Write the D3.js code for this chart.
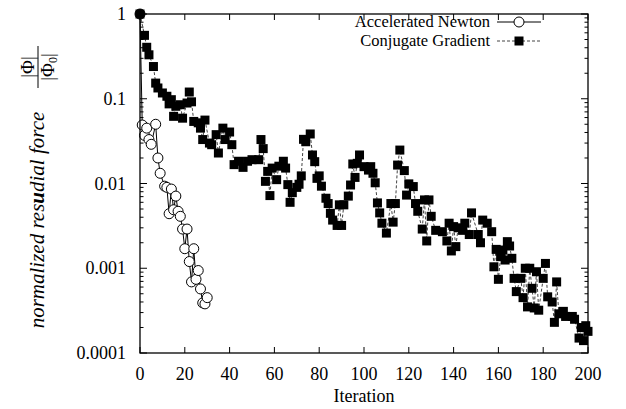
<!DOCTYPE html>
<html>
<head>
<meta charset="utf-8">
<script src="https://cdn.jsdelivr.net/npm/d3@7"></script>
<style>
  body { margin: 0; background: #fff; }
  svg { display: block; font-family: 'Liberation Serif', 'DejaVu Serif', serif; }
</style>
</head>
<body>
<div id="chart"></div>
<script>
const newtonIter = [0, 1, 2, 3, 4, 5, 7, 8, 9, 11, 12, 13, 14, 15, 16, 17, 18, 19, 20, 21, 22, 23, 24, 25, 26, 27, 28, 29, 30]
const newtonValue = [1, 0.049, 0.037, 0.045, 0.033, 0.029, 0.050, 0.020, 0.0132, 0.0093, 0.0090, 0.0044, 0.0086, 0.0049, 0.0071,
  0.0047, 0.0041, 0.0029, 0.0017, 0.0029, 0.0012, 0.00069, 0.0017, 0.00074, 0.00094, 0.00057, 0.00039, 0.00038, 0.00045]

const cgIter = [0, 2, 3, 4, 6, 7, 8, 10, 12, 13, 14, 15, 16, 18, 19, 21, 22, 23, 24, 26, 27, 28, 29, 31, 32, 34, 35, 37, 38, 40,
  41, 42, 44, 46, 48, 50, 53, 54, 55, 56, 57, 58, 59, 61, 62, 64, 65, 66, 67, 68, 70, 71, 72, 73, 74, 76, 77, 78, 79, 80,
  81, 83, 84, 85, 86, 88, 89, 90, 91, 93, 94, 95, 96, 97, 98, 100, 102, 103, 104, 105, 106, 107, 108, 110, 112, 113, 114, 115, 116, 118,
  119, 120, 122, 123, 124, 126, 127, 128, 129, 130, 132, 135, 137, 138, 139, 140, 141, 142, 144, 145, 147, 148, 151, 152, 153, 155, 157, 158, 159, 160,
  161, 162, 163, 164, 165, 166, 167, 168, 170, 171, 172, 173, 174, 175, 176, 177, 178, 180, 181, 182, 184, 185, 186, 187, 189, 190, 193, 194, 196, 197,
  198, 199, 200]
const cgValue = [1, 0.56, 0.405, 0.33, 0.24, 0.153, 0.134, 0.117, 0.107, 0.087, 0.0975, 0.062, 0.0815, 0.085, 0.059, 0.089, 0.12, 0.092, 0.054, 0.052,
  0.045, 0.033, 0.056, 0.030, 0.0287, 0.0377, 0.0229, 0.045, 0.033, 0.0405, 0.0287, 0.0167, 0.0183, 0.0155, 0.0183, 0.0191, 0.0191, 0.033, 0.0258, 0.0106,
  0.0139, 0.0072, 0.0152, 0.0111, 0.016, 0.0183, 0.0152, 0.0097, 0.0060, 0.0078, 0.0090, 0.0098, 0.0123, 0.0332, 0.0311, 0.0384, 0.0217, 0.0181, 0.0115, 0.0123,
  0.0093, 0.0067, 0.0058, 0.00445, 0.0037, 0.0032, 0.0056, 0.0032, 0.0056, 0.0071, 0.0096, 0.017, 0.0118, 0.0173, 0.0217, 0.0158, 0.0144, 0.0158, 0.0132, 0.0102,
  0.0059, 0.0045, 0.0034, 0.0026, 0.0058, 0.0035, 0.0058, 0.0165, 0.0248, 0.0142, 0.0073, 0.0099, 0.0092, 0.0058, 0.0047, 0.0029, 0.0064, 0.0021, 0.0064, 0.0041,
  0.0028, 0.0027, 0.0021, 0.0034, 0.0016, 0.0031, 0.0018, 0.0030, 0.0028, 0.0034, 0.0025, 0.0045, 0.0025, 0.0020, 0.0037, 0.0034, 0.0027, 0.00104, 0.00167, 0.00074,
  0.00137, 0.00164, 0.00125, 0.00206, 0.00183, 0.00131, 0.00076, 0.00053, 0.00076, 0.00045, 0.0010, 0.00035, 0.0010, 0.00058, 0.00034, 0.00091, 0.00032, 0.00076, 0.00114, 0.00046,
  0.0004, 0.00023, 0.00069, 0.00029, 0.00031, 0.00027, 0.00027, 0.00025, 0.00015, 0.0002, 0.00014, 0.00021, 0.00018]

const xTicks = [0, 20, 40, 60, 80, 100, 120, 140, 160, 180, 200]
const yTicks = [1, 0.1, 0.01, 0.001, 0.0001]
const yTickLabels = ['1', '0.1', '0.01', '0.001', '0.0001']
const seriesNames = ['Accelerated Newton', 'Conjugate Gradient']

const svgSize = { width: 626, height: 409 }
const margin = { top: 14, right: 38, bottom: 56, left: 140 }

const svg = d3.select('#chart')
  .append('svg')
  .attr('width', svgSize.width)
  .attr('height', svgSize.height)

const xScale = d3.scaleLinear()
  .domain([0, 200])
  .range([margin.left, svgSize.width - margin.right])

const yScale = d3.scaleLog()
  .domain([0.0001, 1])
  .range([svgSize.height - margin.bottom, margin.top])

const x0 = xScale.range()[0]
const x1 = xScale.range()[1]
const yB = yScale.range()[0]
const yT = yScale.range()[1]

// minor log ticks
const minorTicks = []
for (let e = -4; e < 0; e++) {
  for (let m = 2; m <= 9; m++) minorTicks.push(m * Math.pow(10, e))
}

const ticks = svg.append('g').attr('stroke', '#000').attr('stroke-width', 1)
xTicks.forEach(t => {
  ticks.append('line').attr('x1', xScale(t)).attr('x2', xScale(t)).attr('y1', yB).attr('y2', yB - 6)
  ticks.append('line').attr('x1', xScale(t)).attr('x2', xScale(t)).attr('y1', yT).attr('y2', yT + 6)
})
yTicks.forEach(t => {
  ticks.append('line').attr('x1', x0).attr('x2', x0 + 7).attr('y1', yScale(t)).attr('y2', yScale(t))
  ticks.append('line').attr('x1', x1).attr('x2', x1 - 7).attr('y1', yScale(t)).attr('y2', yScale(t))
})
minorTicks.forEach(t => {
  ticks.append('line').attr('x1', x0).attr('x2', x0 + 3.5).attr('y1', yScale(t)).attr('y2', yScale(t))
  ticks.append('line').attr('x1', x1).attr('x2', x1 - 3.5).attr('y1', yScale(t)).attr('y2', yScale(t))
})

svg.append('g')
  .selectAll('text')
  .data(xTicks)
  .enter().append('text')
  .attr('x', d => xScale(d))
  .attr('y', yB + 27)
  .attr('text-anchor', 'middle')
  .attr('font-size', '18px')
  .text(d => d)

svg.append('g')
  .selectAll('text')
  .data(yTicks)
  .enter().append('text')
  .attr('x', x0 - 14)
  .attr('y', d => yScale(d) + 6)
  .attr('text-anchor', 'end')
  .attr('font-size', '18px')
  .text((d, i) => yTickLabels[i])

svg.append('text')
  .attr('x', (x0 + x1) / 2)
  .attr('y', svgSize.height - 7)
  .attr('text-anchor', 'middle')
  .attr('font-size', '18px')
  .text('Iteration')

// y label
const yLab = svg.append('g').attr('transform', 'translate(44,220) rotate(-90)')
const ylText = yLab.append('text')
  .attr('x', 0)
  .attr('y', 0)
  .attr('text-anchor', 'middle')
  .attr('font-size', '21px')
  .attr('font-style', 'italic')
ylText.append('tspan').text('normalized res')
ylText.append('tspan').attr('font-weight', 'bold').text('u')
ylText.append('tspan').text('dial  force')

const frac = svg.append('g').attr('transform', 'translate(37,67) rotate(-90)')
frac.append('text').attr('x', 0).attr('y', -3).attr('text-anchor', 'middle').attr('font-size', '19px').text('|Φ|')
frac.append('line').attr('x1', -21).attr('x2', 21).attr('y1', 1).attr('y2', 1).attr('stroke', '#000').attr('stroke-width', 1)
frac.append('text').attr('x', 0).attr('y', 17).attr('text-anchor', 'middle').attr('font-size', '19px')
  .html('|Φ<tspan font-size="12px" dy="3">0</tspan><tspan dy="-3">|</tspan>')

// CG series
const cgData = cgIter.map((it, i) => ({ it, v: cgValue[i] }))
const nData = newtonIter.map((it, i) => ({ it, v: newtonValue[i] }))

const line = d3.line()
  .x(d => xScale(d.it))
  .y(d => yScale(d.v))

svg.append('path')
  .attr('d', line(cgData))
  .attr('fill', 'none')
  .attr('stroke', '#444')
  .attr('stroke-width', 1)
  .attr('stroke-dasharray', '3 2')

svg.selectAll('.sq')
  .data(cgData)
  .enter().append('rect')
  .attr('class', 'sq')
  .attr('x', d => xScale(d.it) - 4.5)
  .attr('y', d => yScale(d.v) - 4.5)
  .attr('width', 9)
  .attr('height', 9)
  .attr('fill', '#000')

svg.append('path')
  .attr('d', line(nData))
  .attr('fill', 'none')
  .attr('stroke', '#000')
  .attr('stroke-width', 1)

svg.selectAll('.pt')
  .data(nData)
  .enter().append('circle')
  .attr('class', 'pt')
  .attr('cx', d => xScale(d.it))
  .attr('cy', d => yScale(d.v))
  .attr('r', 5)
  .attr('fill', d => d.it === 0 ? '#000' : '#fff')
  .attr('stroke', '#000')
  .attr('stroke-width', 1)

// frame
svg.append('rect')
  .attr('x', x0)
  .attr('y', yT)
  .attr('width', x1 - x0)
  .attr('height', yB - yT)
  .attr('fill', 'none')
  .attr('stroke', '#000')
  .attr('stroke-width', 1.3)

// legend
const legend = svg.append('g')
seriesNames.forEach((name, i) => {
  const ly = 22 + i * 19
  legend.append('text')
    .attr('x', 490)
    .attr('y', ly + 5)
    .attr('text-anchor', 'end')
    .attr('font-size', '16.5px')
    .text(name)
  legend.append('line')
    .attr('x1', 497).attr('x2', 541)
    .attr('y1', ly).attr('y2', ly)
    .attr('stroke', i === 0 ? '#000' : '#444')
    .attr('stroke-width', 1)
    .attr('stroke-dasharray', i === 0 ? null : '3 2')
  if (i === 0) {
    legend.append('circle').attr('cx', 519).attr('cy', ly).attr('r', 5)
      .attr('fill', '#fff').attr('stroke', '#000').attr('stroke-width', 1)
  } else {
    legend.append('rect').attr('x', 514.5).attr('y', ly - 4.5).attr('width', 9).attr('height', 9).attr('fill', '#000')
  }
})
</script>
</body>
</html>
